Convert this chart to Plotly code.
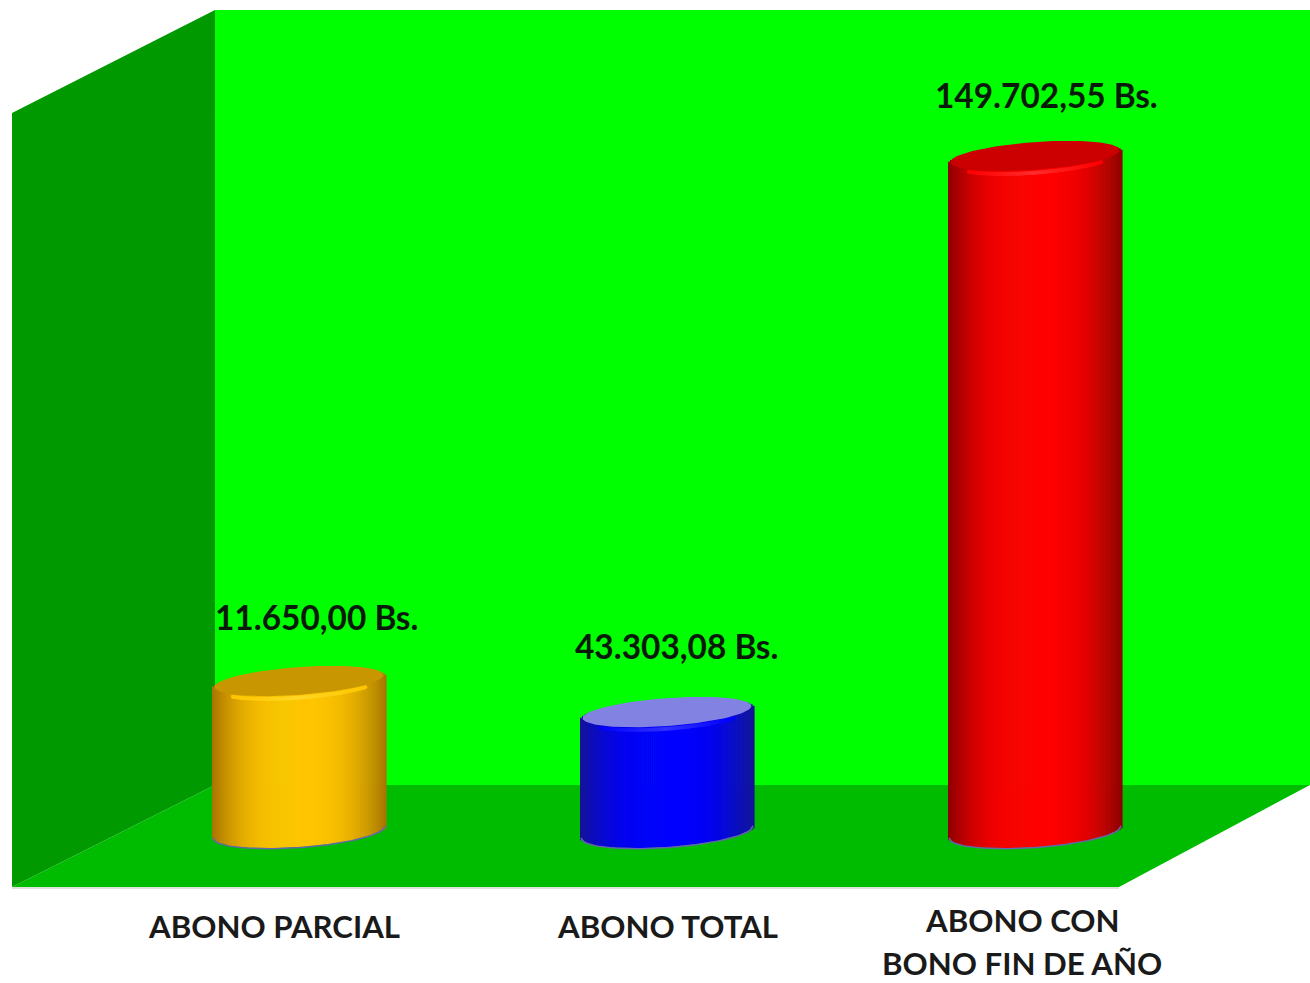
import numpy as np
import plotly.graph_objects as go

# ---- data ----
categories = ["ABONO PARCIAL", "ABONO TOTAL", "ABONO CON<br>BONO FIN DE AÑO"]
value_labels = ["11.650,00 Bs.", "43.303,08 Bs.", "149.702,55 Bs."]
# drawn heights (they do not follow the printed amounts)
bar_heights = [33100, 26200, 149702.55]

# ---- style ----
W, H = 1310, 983
PX_X = 368.0          # pixels per category
PX0_X = 299.0         # pixel of first category
U = 149702.55 / 674   # value units per pixel
PX0_Y = 832.0         # pixel of value 0
HALF_W = 87.0 / PX_X
ELL_B, ELL_TILT = 15.0, 6.0
EDGE = [(168, 116, 0), (20, 20, 150), (140, 0, 0)]
MID = [(255, 198, 0), (0, 0, 255), (255, 0, 0)]
CAP = ["#C89600", "#8282E2", "#CC0000"]
GLOW = [(255, 215, 40), (50, 50, 255), (255, 45, 45)]
BACK, LEFT, FLOOR = "#00FF00", "#009A00", "#00BC00"
N = 88


def px(x):
    return x / W


def py(y):
    return 1 - y / H


def poly(points, color):
    path = "M " + " L ".join(f"{px(a):.5f},{py(b):.5f}" for a, b in points) + " Z"
    return dict(type="path", xref="paper", yref="paper", path=path,
                fillcolor=color, line=dict(width=0), layer="below")


shapes = [
    poly([(215, 10), (1310, 10), (1310, 785), (215, 785)], BACK),
    poly([(215, 785), (1310, 785), (1119, 887), (12, 887)], FLOOR),
    poly([(12, 113), (215, 10), (215, 785), (12, 887)], LEFT),
    dict(type="line", xref="paper", yref="paper", x0=px(12), x1=px(1119), y0=py(888), y1=py(888),
         line=dict(color="#B8C8B8", width=1), layer="below"),
]

fig = go.Figure()
edges = np.linspace(-1, 1, N + 1)
t = (edges[:-1] + edges[1:]) / 2
s = np.sqrt(1 - t ** 2)

for i, h in enumerate(bar_heights):
    # shaded body: narrow bars whose ends follow the ellipse
    mix = np.abs(t) ** 2.6
    cols = [
        "rgb(%d,%d,%d)" % tuple(MID[i][c] + (EDGE[i][c] - MID[i][c]) * m for c in range(3))
        for m in mix
    ]
    base = (ELL_TILT * t - ELL_B * s) * U
    size = h + 2 * ELL_B * s * U
    fig.add_trace(go.Bar(
        x=[i] * N, y=size, base=base,
        offset=edges[:-1] * HALF_W, width=[2.6 * HALF_W / N] * N,
        marker=dict(color=cols, line=dict(width=0)), hoverinfo="skip", showlegend=False,
    ))

    th = np.linspace(0, 2 * np.pi, 121)
    # thin shadow under the foot
    tb = np.linspace(-1, 1, 61)
    sb = np.sqrt(1 - tb ** 2)
    fig.add_trace(go.Scatter(
        x=i + tb * HALF_W * 0.99, y=(ELL_TILT * tb - (ELL_B + 0.6) * sb) * U, mode="lines",
        line=dict(color="#6068A8", width=1.5), hoverinfo="skip", showlegend=False,
    ))
    # soft bevel highlight fading towards the sides, then the cap
    tg = np.linspace(-0.8, 0.8, 90)
    sg = np.sqrt(1 - tg ** 2)
    fade = np.clip(1 - np.abs(tg) / 0.8, 0, 1)
    glow_cols = [
        "rgb(%d,%d,%d)" % tuple(MID[i][c] + (GLOW[i][c] - MID[i][c]) * f for c in range(3))
        for f in fade
    ]
    fig.add_trace(go.Scatter(
        x=i + tg * HALF_W * 0.95, y=h + (ELL_TILT * tg - 0.5 - ELL_B * sg * 0.95) * U,
        mode="markers", marker=dict(color=glow_cols, size=4, line=dict(width=0)),
        hoverinfo="skip", showlegend=False,
    ))
    fig.add_trace(go.Scatter(
        x=i + np.cos(th) * HALF_W * 0.97,
        y=h + (2 + ELL_B * 0.93 * np.sin(th) + ELL_TILT * np.cos(th)) * U,
        mode="lines", fill="toself", fillcolor=CAP[i], line=dict(width=0),
        hoverinfo="skip", showlegend=False,
    ))

annotations = []
value_dx = [17, 9, 11]
value_dy = [66, 68, 63]
for i, (txt, h) in enumerate(zip(value_labels, bar_heights)):
    annotations.append(dict(
        x=i, y=h, xref="x", yref="y", text=txt, showarrow=False,
        xshift=value_dx[i], yshift=value_dy[i], xanchor="center", yanchor="middle",
        font=dict(family="Lato", size=33.4, color="#0A1A0A", weight="bold"),
    ))

cat_dx = [-25, 0, -13]
cat_y = [[926], [926], [920, 963]]
for i, cat in enumerate(categories):
    for line, yp in zip(cat.split("<br>"), cat_y[i]):
        annotations.append(dict(
            x=i, y=(PX0_Y - yp) * U, xref="x", yref="y", text=line, showarrow=False,
            xshift=cat_dx[i], xanchor="center", yanchor="middle",
            font=dict(family="Lato", size=31.2, color="#1A1A1A", weight="bold"),
        ))

fig.update_layout(
    width=W, height=H, margin=dict(l=0, r=0, t=0, b=0),
    paper_bgcolor="white", plot_bgcolor="rgba(0,0,0,0)",
    barmode="overlay", showlegend=False, shapes=shapes, annotations=annotations,
    xaxis=dict(visible=False, range=[-PX0_X / PX_X, (W - PX0_X) / PX_X]),
    yaxis=dict(visible=False, range=[(PX0_Y - H) * U, PX0_Y * U]),
)
fig.write_html("out.html", config=dict(displayModeBar=False),
               post_script="document.body.style.margin='0';")
